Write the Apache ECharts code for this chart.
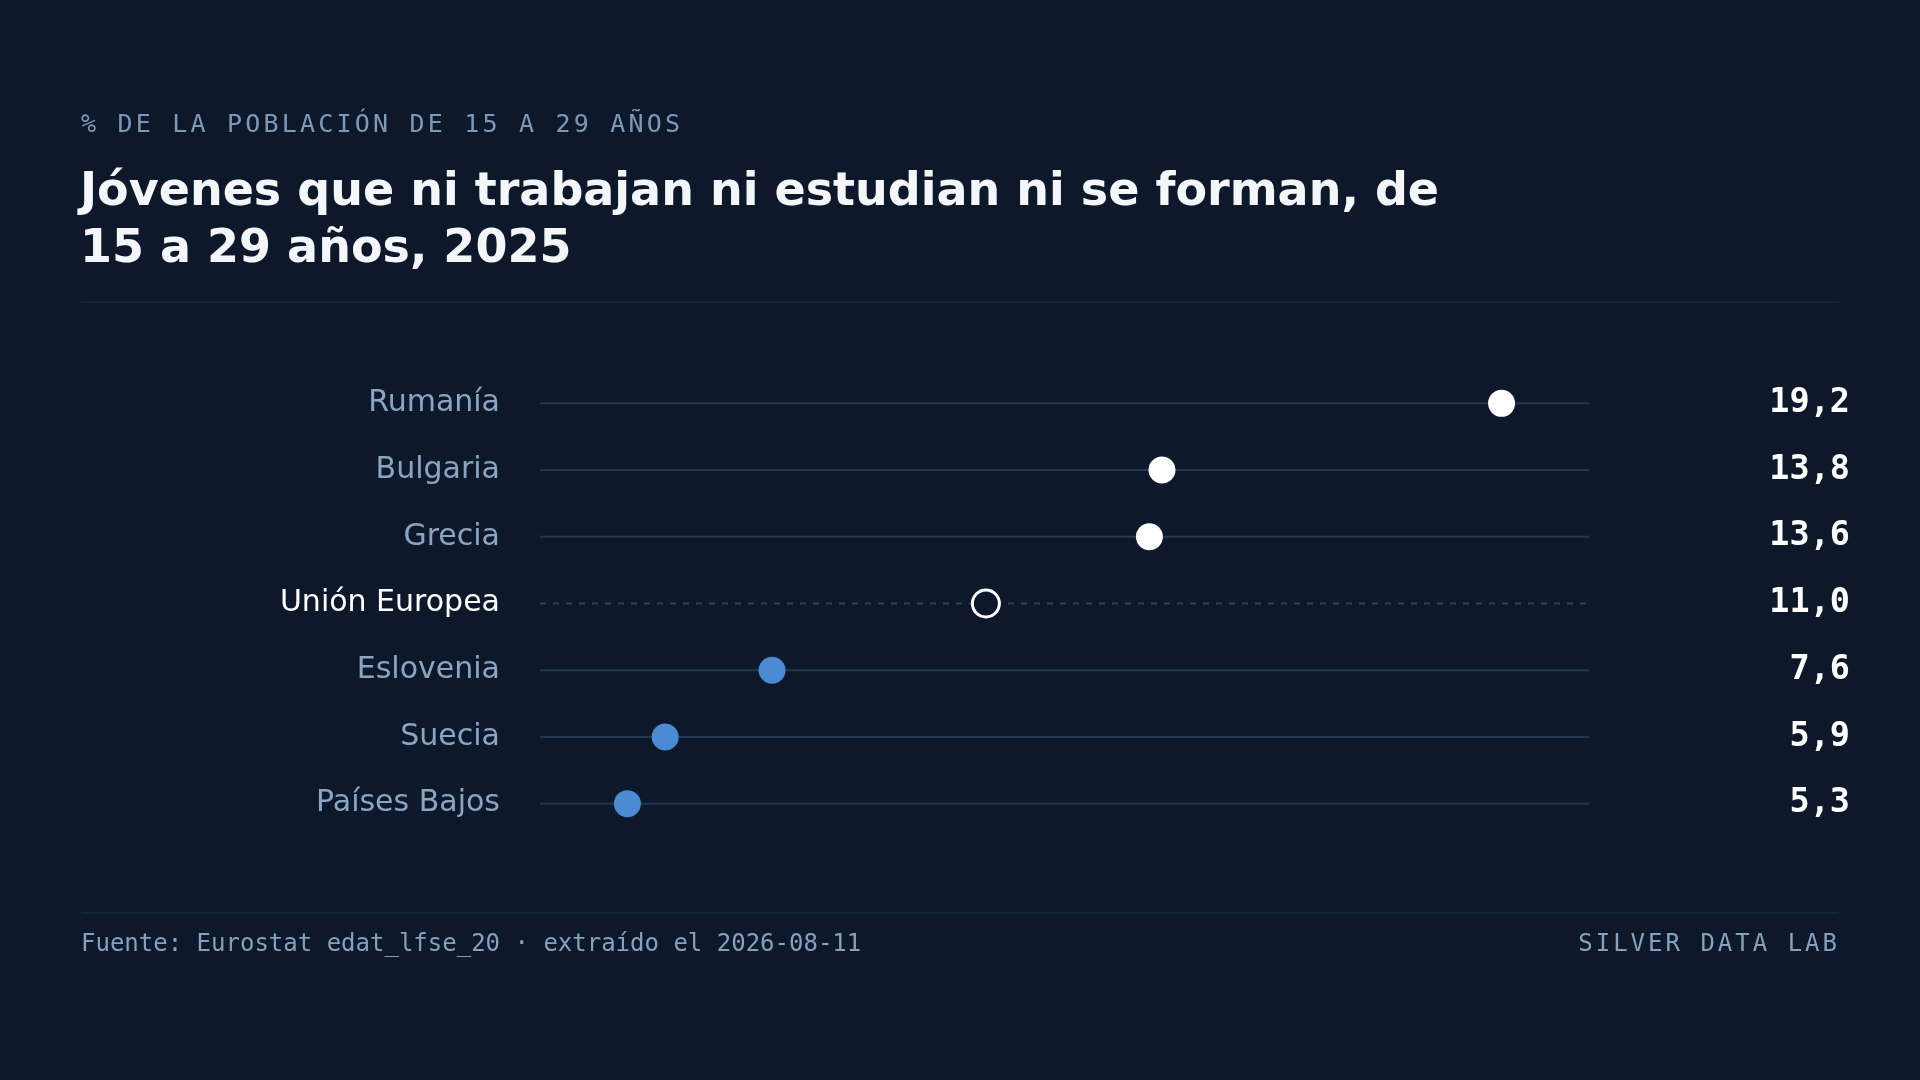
<!DOCTYPE html>
<html>
<head>
<meta charset="utf-8">
<title>Jóvenes que ni trabajan ni estudian ni se forman</title>
<script src="https://cdn.jsdelivr.net/npm/echarts@6/dist/echarts.min.js"></script>
<style>
    html, body { margin: 0; padding: 0; background: #0d192b; }
    #page { position: relative; width: 1920px; height: 1080px; overflow: hidden; background: #0d192b; }
    #chart { position: absolute; left: 0; top: 0; width: 1920px; height: 1080px; }
    .kicker {
        position: absolute; left: 81px; top: 108px; height: 32px; line-height: 32px;
        font-family: "DejaVu Sans Mono", monospace; font-size: 25px; letter-spacing: 3.2px;
        color: #7f98b8; white-space: nowrap;
    }
    .title {
        position: absolute; left: 80px; top: 161px; width: 1600px;
        font-family: "DejaVu Sans", sans-serif; font-weight: bold; font-size: 46px; line-height: 57px;
        color: #f4f6fa;
    }
    .rule { position: absolute; left: 81px; width: 1758px; height: 0; border-top: 2px solid #15253a; }
    .foot {
        position: absolute; top: 928px; height: 30px; line-height: 30px;
        font-family: "DejaVu Sans Mono", monospace; font-size: 24px; color: #87a0bf; white-space: nowrap;
    }
</style>
</head>
<body>
<div id="page">
    <div id="chart"></div>
    <div class="kicker">% DE LA POBLACIÓN DE 15 A 29 AÑOS</div>
    <div class="title">Jóvenes que ni trabajan ni estudian ni se forman, de<br>15 a 29 años, 2025</div>
    <div class="rule" style="top:301px"></div>
    <div class="rule" style="top:912px"></div>
    <div class="foot" style="left:81px">Fuente: Eurostat edat_lfse_20 · extraído el 2026-08-11</div>
    <div class="foot" style="right:83px; letter-spacing:3px; margin-right:-3px">SILVER DATA LAB</div>
</div>
<script>
    //data
    var countries = ["Rumanía", "Bulgaria", "Grecia", "Unión Europea", "Eslovenia", "Suecia", "Países Bajos"];
    var values = [19.2, 13.8, 13.6, 11.0, 7.6, 5.9, 5.3];
    var reference = "Unión Europea";

    //scale: 10% padding of the range on each side
    var vMax = Math.max.apply(null, values);
    var vMin = Math.min.apply(null, values);
    var pad = (vMax - vMin) * 0.1;
    var xMin = vMin - pad;
    var xMax = vMax + pad;

    var bg = "#0d192b";
    var refIndex = countries.indexOf(reference);
    var refValue = values[refIndex];

    function fmt(v) {
        return v.toFixed(1).replace('.', ',');
    }

    var dots = values.map(function(v, i) {
        var isRef = i === refIndex;
        return {
            value: [v, i],
            itemStyle: isRef ? {
                color: bg,
                borderColor: "#ffffff",
                borderWidth: 3,
                opacity: 1
            } : {
                color: v > refValue ? "#ffffff" : "#4a8bd4",
                opacity: 1
            }
        };
    });

    var chart = echarts.init(document.getElementById("chart"));
    chart.setOption({
        backgroundColor: "transparent",
        animation: false,
        grid: {
            left: 540,
            right: 331,
            top: 370,
            height: 467
        },
        xAxis: {
            type: "value",
            min: xMin,
            max: xMax,
            show: false
        },
        yAxis: [{
            type: "category",
            data: countries,
            inverse: true,
            axisLine: { show: false },
            axisTick: { show: false },
            splitLine: { show: false },
            axisLabel: {
                margin: 40,
                fontFamily: "DejaVu Sans",
                fontSize: 30,
                color: function(value) {
                    return value === reference ? "#ffffff" : "#8ba4c2";
                }
            }
        }, {
            type: "category",
            data: countries,
            inverse: true,
            position: "right",
            axisLine: { show: false },
            axisTick: { show: false },
            splitLine: { show: false },
            axisLabel: {
                margin: 261,
                align: "right",
                padding: [5, 0, 0, 0],
                fontFamily: "DejaVu Sans Mono",
                fontWeight: "bold",
                fontSize: 33.5,
                color: "#ffffff",
                formatter: function(value, index) {
                    return fmt(values[countries.indexOf(value)]);
                }
            }
        }],
        series: [{
            type: "custom",
            silent: true,
            z: 1,
            data: countries.map(function(c, i) { return [i]; }),
            renderItem: function(params, api) {
                var i = api.value(0);
                var a = api.coord([xMin, i]);
                var b = api.coord([xMax, i]);
                var dashed = i === refIndex;
                return {
                    type: "line",
                    shape: { x1: a[0], y1: a[1], x2: b[0], y2: b[1] },
                    style: {
                        stroke: dashed ? "#2a4462" : "#223851",
                        lineWidth: 2,
                        lineDash: dashed ? [6, 7] : null
                    }
                };
            }
        }, {
            type: "scatter",
            z: 3,
            symbol: "circle",
            symbolSize: 27,
            itemStyle: { opacity: 1 },
            data: dots
        }]
    });
</script>
</body>
</html>
